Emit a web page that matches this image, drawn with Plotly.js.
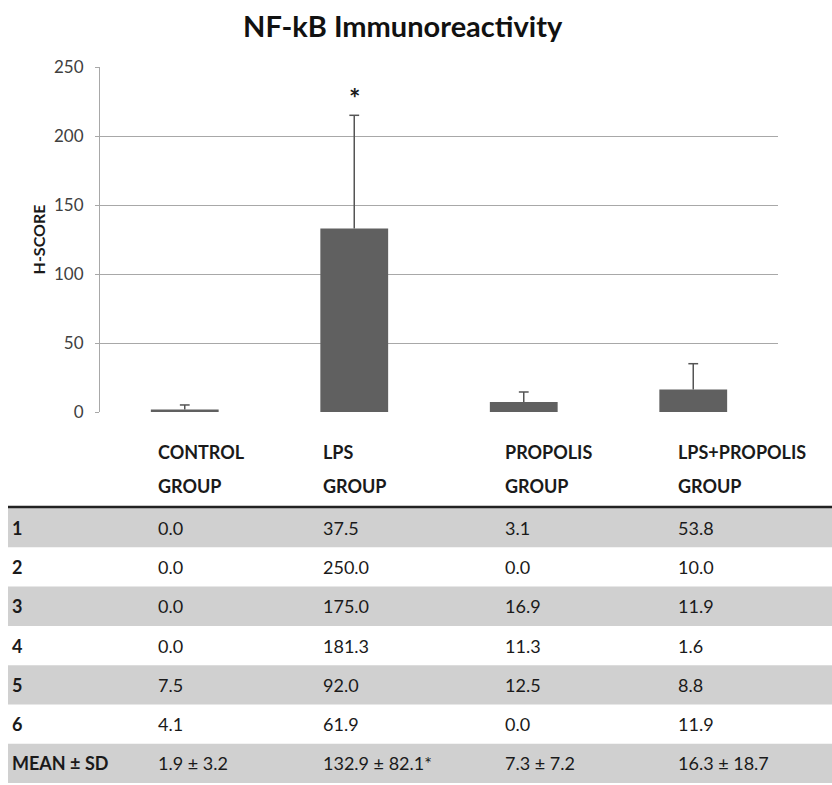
<!DOCTYPE html>
<html>
<head>
<meta charset="utf-8">
<script src="https://cdn.plot.ly/plotly-3.0.1.min.js"></script>
<style>html,body{margin:0;padding:0;background:#fff;}#chart{width:832px;height:785px;}</style>
</head>
<body>
<div id="chart"></div>
<script>
// ---- data ----
const groups = ['CONTROL GROUP', 'LPS GROUP', 'PROPOLIS GROUP', 'LPS+PROPOLIS GROUP'];
const headerLine1 = ['CONTROL', 'LPS', 'PROPOLIS', 'LPS+PROPOLIS'];
const headerLine2 = ['GROUP', 'GROUP', 'GROUP', 'GROUP'];
const rowLabels = ['1', '2', '3', '4', '5', '6', 'MEAN ± SD'];
const controlScores = ['0.0', '0.0', '0.0', '0.0', '7.5', '4.1'];
const lpsScores = ['37.5', '250.0', '175.0', '181.3', '92.0', '61.9'];
const propolisScores = ['3.1', '0.0', '16.9', '11.3', '12.5', '0.0'];
const lpsPropolisScores = ['53.8', '10.0', '11.9', '1.6', '8.8', '11.9'];
const means = [1.9, 132.9, 7.3, 16.3];
const sds = [3.2, 82.1, 7.2, 18.7];
const significant = [false, true, false, false];
const yTicks = [0, 50, 100, 150, 200, 250];

// ---- layout helpers ----
const W = 832, H = 785;
const M = {l: 100, r: 54, t: 67, b: 373};
const plotW = W - M.l - M.r, plotH = H - M.t - M.b;
const px = x => (x - M.l) / plotW;
const py = y => (H - M.b - y) / plotH;

const FONT = 'Lato, "Open Sans", sans-serif';
const TXT = '#1a1a1a';

const bar = {
  type: 'bar',
  x: groups,
  y: means,
  width: 0.4,
  marker: {color: '#606060', line: {width: 0}},
  hoverinfo: 'none'
};

// upward-only error bars (no cap at the bar top)
const errX = [], errY = [];
groups.forEach((g, i) => { errX.push(g, g, null); errY.push(means[i], means[i] + sds[i], null); });
const errLines = {
  type: 'scatter', mode: 'lines', x: errX, y: errY,
  line: {color: '#555555', width: 1.5}, hoverinfo: 'none', cliponaxis: false
};
const errCaps = {
  type: 'scatter', mode: 'markers', x: groups, y: means.map((m, i) => m + sds[i]),
  marker: {symbol: 'line-ew', size: 7, line: {color: '#555555', width: 1.5}},
  hoverinfo: 'none', cliponaxis: false
};

const annotations = [];
const shapes = [];

// significance markers
groups.forEach((g, i) => {
  if (significant[i]) {
    annotations.push({
      x: g, y: means[i] + sds[i], xref: 'x', yref: 'y', text: '<b>*</b>',
      showarrow: false, yanchor: 'middle', yshift: 18,
      font: {family: FONT, size: 27, color: TXT}
    });
  }
});

// table
const colX = [10, 156, 321, 503, 676];
const headerY1 = 452, headerY2 = 486;
const rowTop = 508, rowH = 39.3;
const cellFont = {family: FONT, size: 18, color: TXT};
const boldFont = {family: FONT, size: 18, color: TXT};

headerLine1.forEach((t, i) => {
  annotations.push({xref: 'paper', yref: 'paper', x: px(colX[i + 1]), y: py(headerY1), text: '<b>' + t + '</b>',
    showarrow: false, xanchor: 'left', yanchor: 'middle', font: boldFont});
  annotations.push({xref: 'paper', yref: 'paper', x: px(colX[i + 1]), y: py(headerY2), text: '<b>' + headerLine2[i] + '</b>',
    showarrow: false, xanchor: 'left', yanchor: 'middle', font: boldFont});
});

shapes.push({type: 'line', xref: 'paper', yref: 'paper', x0: px(8), x1: px(832), y0: py(rowTop - 1), y1: py(rowTop - 1),
  line: {color: '#222', width: 2.5}});

const columns = [controlScores, lpsScores, propolisScores, lpsPropolisScores];
rowLabels.forEach((lab, r) => {
  const top = rowTop + r * rowH;
  if (r % 2 === 0) {
    shapes.push({type: 'rect', xref: 'paper', yref: 'paper', x0: px(8), x1: px(832), y0: py(top + rowH), y1: py(top),
      fillcolor: '#d0d0d0', line: {width: 0}, layer: 'below'});
  }
  const cy = py(top + rowH / 2);
  annotations.push({xref: 'paper', yref: 'paper', x: px(colX[0]), y: cy, text: '<b>' + lab + '</b>',
    showarrow: false, xanchor: 'left', yanchor: 'middle', font: boldFont});
  columns.forEach((col, c) => {
    let t;
    if (r < col.length) t = col[r];
    else t = means[c].toFixed(1) + ' ± ' + sds[c].toFixed(1) + (significant[c] ? '*' : '');
    annotations.push({xref: 'paper', yref: 'paper', x: px(colX[c + 1]), y: cy, text: t,
      showarrow: false, xanchor: 'left', yanchor: 'middle', font: cellFont});
  });
});

const layout = {
  width: W, height: H,
  margin: M,
  paper_bgcolor: '#fff', plot_bgcolor: '#fff',
  showlegend: false,
  title: {text: '<b>NF-kB Immunoreactivity</b>', x: 0.484, xanchor: 'center', y: 0.966, yanchor: 'middle',
    font: {family: FONT, size: 29, color: '#111'}},
  xaxis: {type: 'category', range: [-0.5, 3.5], showticklabels: false, showgrid: false, zeroline: false,
    showline: false, ticks: ''},
  yaxis: {range: [0, 250], tickvals: yTicks, showgrid: true, gridcolor: '#a8a8a8', gridwidth: 1,
    zeroline: false, showline: true, linecolor: '#a8a8a8', linewidth: 1,
    ticks: 'outside', ticklen: 4, tickcolor: '#a8a8a8', ticklabelstandoff: 8,
    tickfont: {family: FONT, size: 17, color: '#404040'},
    title: {text: '<b>H-SCORE</b>', standoff: 4, font: {family: FONT, size: 16, color: TXT}}},
  annotations: annotations,
  shapes: shapes
};

Plotly.newPlot('chart', [bar, errLines, errCaps], layout, {displayModeBar: false, staticPlot: true});
</script>
</body>
</html>
